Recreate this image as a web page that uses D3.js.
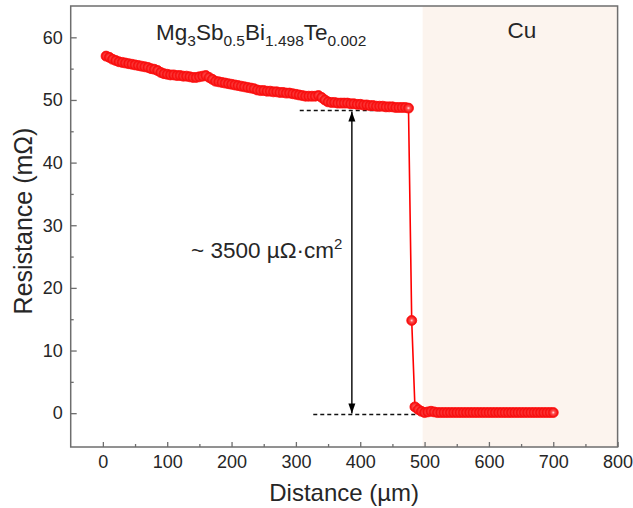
<!DOCTYPE html>
<meta charset="utf-8">
<html>
  <head>
    <style>
      body { margin: 0; background: #fff; }
      text { font-family: "Liberation Sans", Arial, sans-serif; fill: #262626; }
      .axis path, .axis line { stroke: #6e6e6e; stroke-width: 1.3px; }
      .frame { fill: none; stroke: #6e6e6e; stroke-width: 1.5px; }
    </style>
    <script src="https://d3js.org/d3.v7.min.js"></script>
  </head>
  <body>
    <div id="chart"></div>
    <script type="text/javascript">
      // distance (um) and resistance (mOhm)
      var distance = [5, 10, 15, 20, 25, 30, 35, 40, 45, 50, 55, 60, 65, 70, 75, 80, 85, 90, 95, 100,
                      105, 110, 115, 120, 125, 130, 135, 140, 145, 150, 155, 160, 165, 170, 175, 180, 185, 190, 195, 200,
                      205, 210, 215, 220, 225, 230, 235, 240, 245, 250, 255, 260, 265, 270, 275, 280, 285, 290, 295, 300,
                      305, 310, 315, 320, 325, 330, 335, 340, 345, 350, 355, 360, 365, 370, 375, 380, 385, 390, 395, 400,
                      405, 410, 415, 420, 425, 430, 435, 440, 445, 450, 455, 460, 465, 470, 475,
                      480, 485, 490, 495, 500, 505, 510, 515, 520, 525, 530, 535, 540, 545, 550, 555, 560, 565, 570, 575,
                      580, 585, 590, 595, 600, 605, 610, 615, 620, 625, 630, 635, 640, 645, 650, 655, 660, 665, 670, 675,
                      680, 685, 690, 695, 700];
      var resistance = [57.0, 56.8, 56.5, 56.3, 56.1, 56.0, 55.9, 55.8, 55.7, 55.6, 55.5, 55.4, 55.3, 55.2, 55.0, 54.9, 54.7, 54.4, 54.2, 54.1,
                        54.0, 54.0, 53.9, 53.9, 53.8, 53.8, 53.7, 53.6, 53.6, 53.7, 53.8, 53.9, 53.6, 53.3, 53.0, 52.9, 52.8, 52.7, 52.6, 52.5,
                        52.4, 52.3, 52.2, 52.1, 52.0, 51.9, 51.8, 51.6, 51.5, 51.5, 51.4, 51.4, 51.3, 51.3, 51.2, 51.2, 51.1, 51.1, 51.0, 50.9,
                        50.8, 50.7, 50.6, 50.6, 50.6, 50.6, 50.7, 50.4, 50.0, 49.7, 49.6, 49.6, 49.5, 49.5, 49.5, 49.5, 49.4, 49.4, 49.3, 49.3,
                        49.2, 49.2, 49.1, 49.1, 49.0, 49.0, 49.0, 48.9, 48.9, 48.9, 48.8, 48.8, 48.8, 48.8, 48.7,
                        14.8, 1.0, 0.6, 0.3, 0.1, 0.2, 0.3, 0.2, 0.1, 0.1, 0.1, 0.1, 0.1, 0.1, 0.1, 0.1, 0.1, 0.1, 0.1, 0.1,
                        0.1, 0.1, 0.1, 0.1, 0.1, 0.1, 0.1, 0.1, 0.1, 0.1, 0.1, 0.1, 0.1, 0.1, 0.1, 0.1, 0.1, 0.1, 0.1, 0.1,
                        0.1, 0.1, 0.1, 0.1, 0.1];
      var xTicks = [0, 100, 200, 300, 400, 500, 600, 700, 800];
      var xMinor = [50, 150, 250, 350, 450, 550, 650, 750];
      var yTicks = [0, 10, 20, 30, 40, 50, 60];
      var yMinor = [5, 15, 25, 35, 45, 55];
      var cuRegion = [497, 800];
      var topLevel = 48.3, bottomLevel = -0.2;
      var topDash = [306, 475], bottomDash = [327, 549];
      var arrowX = 387;

      var width = 633, height = 508;
      var margin = { top: 6, right: 15.4, bottom: 61, left: 70.7 };

      var x = d3.scaleLinear().domain([-50, 800]).range([margin.left, width - margin.right]);
      var y = d3.scaleLinear().domain([-5.4, 65]).range([height - margin.bottom, margin.top]);

      var svg = d3.select("#chart").append("svg")
          .attr("width", width)
          .attr("height", height);

      var defs = svg.append("defs");
      var grad = defs.append("radialGradient").attr("id", "ball")
          .attr("cx", "50%").attr("cy", "50%").attr("r", "50%");
      grad.append("stop").attr("offset", "0%").attr("stop-color", "#ffe4e4");
      grad.append("stop").attr("offset", "32%").attr("stop-color", "#ff5050");
      grad.append("stop").attr("offset", "100%").attr("stop-color", "#f00000");

      defs.append("marker").attr("id", "head")
          .attr("viewBox", "0 0 10 10").attr("refX", 10).attr("refY", 5)
          .attr("markerWidth", 10).attr("markerHeight", 10)
          .attr("markerUnits", "userSpaceOnUse")
          .attr("orient", "auto-start-reverse")
        .append("path").attr("d", "M0,1.5 L10,5 L0,8.5 Z").attr("fill", "#000");

      // Cu shaded region
      svg.append("rect")
          .attr("x", x(cuRegion[0]))
          .attr("y", y(65))
          .attr("width", x(cuRegion[1]) - x(cuRegion[0]))
          .attr("height", y(-5.4) - y(65))
          .attr("fill", "#fcf4ee");

      // axes with inward ticks
      svg.append("g").attr("class", "axis")
          .attr("transform", "translate(0," + y(-5.4) + ")")
          .call(d3.axisBottom(x).tickValues(xTicks).tickSize(-5).tickPadding(8));
      svg.append("g").attr("class", "axis")
          .attr("transform", "translate(0," + y(-5.4) + ")")
          .call(d3.axisBottom(x).tickValues(xMinor).tickSize(-3).tickFormat(""));
      svg.append("g").attr("class", "axis")
          .attr("transform", "translate(" + x(-50) + ",0)")
          .call(d3.axisLeft(y).tickValues(yTicks).tickSize(-6).tickPadding(8));
      svg.append("g").attr("class", "axis")
          .attr("transform", "translate(" + x(-50) + ",0)")
          .call(d3.axisLeft(y).tickValues(yMinor).tickSize(-3).tickFormat(""));
      svg.selectAll(".axis path.domain").remove();
      svg.selectAll(".axis text").style("font-size", "18px").attr("fill", "#262626")
          .style("font-family", '"Liberation Sans", Arial, sans-serif');

      svg.append("rect").attr("class", "frame")
          .attr("x", x(-50)).attr("y", y(65))
          .attr("width", x(800) - x(-50)).attr("height", y(-5.4) - y(65));

      // dashed guides
      svg.append("line")
          .attr("x1", x(topDash[0])).attr("x2", x(topDash[1]))
          .attr("y1", y(topLevel)).attr("y2", y(topLevel))
          .attr("stroke", "#111").attr("stroke-width", 1.5).attr("stroke-dasharray", "4,3");
      svg.append("line")
          .attr("x1", x(bottomDash[0])).attr("x2", x(bottomDash[1]))
          .attr("y1", y(bottomLevel)).attr("y2", y(bottomLevel))
          .attr("stroke", "#111").attr("stroke-width", 1.5).attr("stroke-dasharray", "4,3");

      // data
      var pts = distance.map(function (d, i) { return [d, resistance[i]]; });
      svg.append("path")
          .datum(pts)
          .attr("fill", "none")
          .attr("stroke", "#ff0000")
          .attr("stroke-width", 1.6)
          .attr("d", d3.line().x(function (d) { return x(d[0]); }).y(function (d) { return y(d[1]); }));
      svg.selectAll(".pt")
          .data(pts)
          .enter().append("circle")
            .attr("class", "pt")
            .attr("cx", function (d) { return x(d[0]); })
            .attr("cy", function (d) { return y(d[1]); })
            .attr("r", 5)
            .attr("fill", "url(#ball)")
            .attr("stroke", "#ff1010")
            .attr("stroke-width", 0.8);

      // double arrow
      svg.append("line")
          .attr("x1", x(arrowX)).attr("x2", x(arrowX))
          .attr("y1", y(topLevel) + 1).attr("y2", y(bottomLevel) - 1)
          .attr("stroke", "#000").attr("stroke-width", 1.4)
          .attr("marker-start", "url(#head)").attr("marker-end", "url(#head)");

      // labels
      var title = svg.append("text").attr("x", 156).attr("y", 40).style("font-size", "22.5px");
      [["Mg", 0], ["3", 1], ["Sb", 0], ["0.5", 1], ["Bi", 0], ["1.498", 1], ["Te", 0], ["0.002", 1]].forEach(function (p, i, arr) {
        var prev = i > 0 ? arr[i - 1][1] : 0;
        title.append("tspan")
            .attr("dy", p[1] === prev ? 0 : (p[1] ? 6 : -6))
            .style("font-size", p[1] ? "15.5px" : "22.5px")
            .text(p[0]);
      });

      svg.append("text").attr("x", 522).attr("y", 38)
          .attr("text-anchor", "middle").style("font-size", "22.5px").text("Cu");

      var note = svg.append("text").attr("x", 191).attr("y", 258).style("font-size", "22.5px");
      note.append("tspan").text("~ 3500 µΩ·cm");
      note.append("tspan").attr("dy", -9).style("font-size", "15px").text("2");

      svg.append("text")
          .attr("x", (x(-50) + x(800)) / 2).attr("y", 501)
          .attr("text-anchor", "middle").style("font-size", "24px")
          .text("Distance (µm)");
      svg.append("text")
          .attr("transform", "translate(32,221) rotate(-90)")
          .attr("text-anchor", "middle").style("font-size", "25px")
          .text("Resistance (mΩ)");
    </script>
  </body>
</html>
